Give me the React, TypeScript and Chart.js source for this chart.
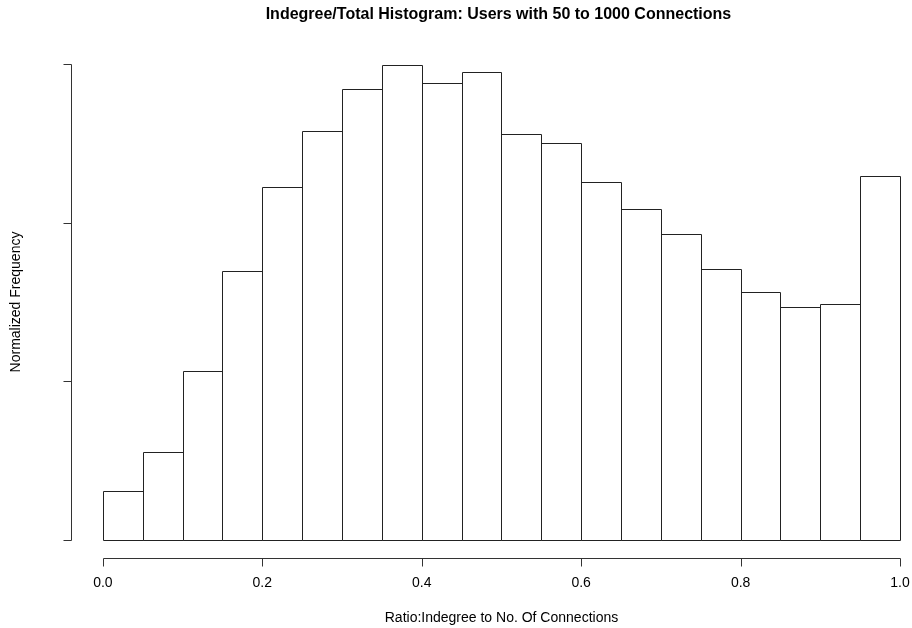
import { useEffect, useRef } from "react";
import { Chart, registerables } from "chart.js";

Chart.register(...registerables);

const binStarts = [0, 0.05, 0.1, 0.15, 0.2, 0.25, 0.3, 0.35, 0.4, 0.45, 0.5, 0.55, 0.6, 0.65, 0.7, 0.75, 0.8, 0.85, 0.9, 0.95];
const binWidth = 0.05;
const frequencies = [0.307, 0.555, 1.066, 1.696, 2.222, 2.577, 2.842, 2.994, 2.882, 2.949, 2.558, 2.504, 2.256, 2.089, 1.93, 1.709, 1.562, 1.471, 1.486, 2.296];
const xTicks = [0, 0.2, 0.4, 0.6, 0.8, 1.0];
const xTickLabels = ["0.0", "0.2", "0.4", "0.6", "0.8", "1.0"];
const yTicks = [0, 1, 2, 3];

const titleText = "Indegree/Total Histogram: Users with 50 to 1000 Connections";
const xTitle = "Ratio:Indegree to No. Of Connections";
const yTitle = "Normalized Frequency";

const FONT = '"Liberation Sans", Arial, Helvetica, sans-serif';

const rAxesPlugin = {
  id: "rAxes",
  afterDatasetsDraw(chart: any) {
    const { ctx } = chart;
    const meta = chart.getDatasetMeta(0);
    ctx.save();
    ctx.strokeStyle = "#222";
    ctx.lineWidth = 1;
    ctx.beginPath();
    meta.data.forEach((bar: any) => {
      const p = bar.getProps(["x", "y", "base", "width"], true);
      const l = Math.round(p.x - p.width / 2) + 0.5;
      const r = Math.round(p.x + p.width / 2) + 0.5;
      const t = Math.round(p.y) + 0.5;
      const b = Math.round(p.base) + 0.5;
      ctx.rect(l, t, r - l, b - t);
    });
    ctx.stroke();
    ctx.restore();
  },
  afterDraw(chart: any) {
    const { ctx, chartArea: ca } = chart;
    const xs = chart.scales.x;
    const ys = chart.scales.y;
    ctx.save();
    ctx.strokeStyle = "#333";
    ctx.fillStyle = "#000";
    ctx.lineWidth = 1;

    // x axis
    const axY = Math.round(ca.bottom) - 0.5;
    ctx.beginPath();
    ctx.moveTo(Math.round(xs.getPixelForValue(xTicks[0])) + 0.5, axY);
    ctx.lineTo(Math.round(xs.getPixelForValue(xTicks[xTicks.length - 1])) + 0.5, axY);
    xTicks.forEach((t) => {
      const px = Math.round(xs.getPixelForValue(t)) + 0.5;
      ctx.moveTo(px, axY);
      ctx.lineTo(px, axY + 8);
    });
    ctx.stroke();
    ctx.font = `14px ${FONT}`;
    ctx.textAlign = "center";
    ctx.textBaseline = "middle";
    xTicks.forEach((t, i) => {
      ctx.fillText(xTickLabels[i], xs.getPixelForValue(t), axY + 25);
    });

    // y axis
    const axX = Math.round(ca.left) + 0.5;
    ctx.beginPath();
    ctx.moveTo(axX, Math.round(ys.getPixelForValue(yTicks[0])) + 0.5);
    ctx.lineTo(axX, Math.round(ys.getPixelForValue(yTicks[yTicks.length - 1])) + 0.5);
    yTicks.forEach((t) => {
      const py = Math.round(ys.getPixelForValue(t)) + 0.5;
      ctx.moveTo(axX, py);
      ctx.lineTo(axX - 8, py);
    });
    ctx.stroke();

    const cx = xs.getPixelForValue(0.5);
    const cy = (ca.top + ca.bottom) / 2;
    // titles
    ctx.font = `bold 16px ${FONT}`;
    ctx.fillText(titleText, cx - 3, 15);
    ctx.font = `14px ${FONT}`;
    ctx.fillText(xTitle, cx, 618);
    ctx.save();
    ctx.translate(16, cy);
    ctx.rotate(-Math.PI / 2);
    ctx.fillText(yTitle, 0, 0);
    ctx.restore();
    ctx.restore();
  },
};

export default function App() {
  const ref = useRef<HTMLCanvasElement | null>(null);
  useEffect(() => {
    if (!ref.current) return;
    const chart = new Chart(ref.current, {
      type: "bar",
      data: {
        datasets: [
          {
            data: binStarts.map((s, i) => ({ x: s + binWidth / 2, y: frequencies[i] })),
            backgroundColor: "#ffffff",
            borderWidth: 0,
            barPercentage: 1,
            categoryPercentage: 1,
          } as any,
        ],
      },
      options: {
        responsive: false,
        animation: false,
        devicePixelRatio: 1,
        layout: { padding: { left: 71, top: 45, right: 0, bottom: 69 } },
        plugins: { legend: { display: false }, tooltip: { enabled: false }, title: { display: false } },
        scales: {
          x: { type: "linear", min: -0.04, max: 1.015, display: false, offset: false },
          y: { type: "linear", min: -0.12, max: 3.12, display: false },
        },
      },
      plugins: [rAxesPlugin],
    });
    return () => chart.destroy();
  }, []);
  return (
    <div style={{ position: "absolute", left: 0, top: 0, width: 912, height: 628, background: "#fff" }}>
      <canvas ref={ref} width={912} height={628} />
    </div>
  );
}
